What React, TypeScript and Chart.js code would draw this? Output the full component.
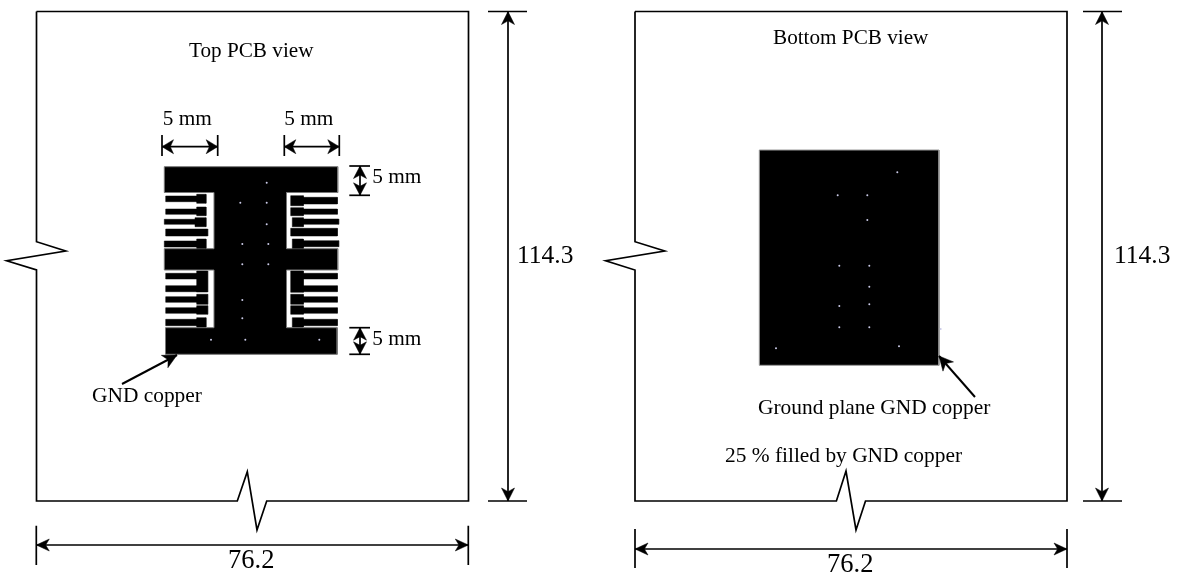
import React, { useEffect, useRef } from "react";
import { Chart, registerables } from "chart.js";

Chart.register(...registerables);

type Pt = [number, number];

// Board outlines with break marks
const topBoardOutline: Pt[] = [[36.5, 11.5], [468.5, 11.5], [468.5, 501], [266.7, 501], [257, 530], [247.3, 471.7], [237.3, 501], [36.5, 501], [36.5, 270], [6.7, 260.7], [65.7, 251], [36.5, 241.7], [36.5, 11.5]];
const bottomBoardOutline: Pt[] = [[635, 11.5], [1067, 11.5], [1067, 501], [865.5, 501], [856, 530], [846, 471], [836.4, 501], [635, 501], [635, 270], [605.7, 260.7], [664.7, 251], [635, 241.7], [635, 11.5]];

// Copper regions
const topCopper: Pt[] = [[164.3, 166.7], [337.7, 166.7], [337.7, 192.5], [286.5, 192.5], [286.5, 248.7], [337.7, 248.7], [337.7, 270], [286.5, 270], [286.5, 327.7], [337.2, 327.7], [337.2, 354.3], [165.5, 354.3], [165.5, 327.7], [214, 327.7], [214, 270], [164.3, 270], [164.3, 248.7], [214, 248.7], [214, 192.5], [164.3, 192.5], [164.3, 166.7]];
const bottomCopper: Pt[] = [[759.3, 150], [939, 150], [939, 365.3], [759.3, 365.3], [759.3, 150]];

// Trace and pad rectangles: [x0, y0, x1, y1]
const leftTraces: number[][] = [
  [165.7, 196, 197, 201.7], [165.7, 209, 197, 214.3], [164.3, 219.3, 196, 224.3], [165.7, 229, 207.7, 236], [164.3, 241, 197, 247],
  [165.7, 273.3, 197, 279], [165.7, 285.7, 197, 291.7], [165.7, 296.7, 197, 302.3], [165.7, 307.7, 197, 313.3], [165.7, 319.3, 197, 325.7],
];
const leftPads: number[][] = [
  [196.7, 194.3, 206, 203.3], [196.7, 207, 206, 215.7], [195, 217.7, 206, 226.7], [196.7, 239, 206, 248.3],
  [196.7, 271, 207.7, 292], [196.7, 294.3, 207.7, 304.3], [196.7, 305.7, 207.7, 314.3], [196.7, 317.7, 206, 327],
];
const rightTraces: number[][] = [
  [303, 197.3, 337.3, 204], [303, 209, 337.3, 214.3], [303, 219, 338.7, 224.3], [290.7, 228.3, 337.3, 236], [303, 240.7, 338.7, 246.7],
  [303, 273.3, 337.3, 279], [303, 285.7, 337.3, 291.7], [303, 296.7, 337.3, 302.3], [303, 307.7, 337.3, 313.3], [303, 319.3, 337.3, 325.7],
];
const rightPads: number[][] = [
  [290.7, 195.7, 303.3, 205.7], [290.7, 207.7, 303.3, 215.7], [292.3, 217.7, 303.3, 226.7], [292.3, 239, 303.3, 248.3],
  [290.7, 271, 303.3, 292.3], [290.7, 294.3, 303.3, 304.3], [290.7, 305.7, 303.3, 314.3], [292.3, 317.7, 303.3, 327],
];

// Vias
const topVias: Pt[] = [[266.7, 182.7], [240.3, 202.7], [266.7, 202.7], [266.7, 224.3], [242.3, 244], [268.3, 244], [242.3, 264.3], [268.3, 264.3], [242.3, 300], [242.3, 318.3], [211, 339.7], [245.3, 339.7], [319.3, 339.7]];
const bottomVias: Pt[] = [[897.3, 172.3], [837.7, 195.3], [867.3, 195.3], [867.3, 220], [839.3, 265.7], [869.3, 265.7], [869.3, 286.7], [869.3, 304.3], [839.3, 306], [839.3, 327.3], [869.3, 327.3], [940.7, 329], [776, 348.3], [899, 346.3]];

// Dimension tick segments: [x0, y0, x1, y1]
const dimensionTicks: number[][] = [
  [36.3, 525.7, 36.3, 565], [468.3, 525.7, 468.3, 565],
  [635, 529, 635, 568], [1067, 529, 1067, 568],
  [488, 11.5, 527, 11.5], [488, 501, 527, 501],
  [1083, 11.5, 1122, 11.5], [1083, 501, 1122, 501],
  [162, 135, 162, 156], [217.7, 135, 217.7, 156],
  [284.3, 135, 284.3, 156], [339.3, 135, 339.3, 156],
  [349.3, 166, 370, 166], [349.3, 195.3, 370, 195.3],
  [349.3, 327.7, 370, 327.7], [349.3, 354.3, 370, 354.3],
];

// Double-headed dimension arrows: [x0, y0, x1, y1, head length, head half-width]
const doubleArrows: number[][] = [
  [36.3, 545, 468.3, 545, 13, 6],
  [635, 549, 1067, 549, 13, 6],
  [508, 11.5, 508, 501, 13, 6.5],
  [1102, 11.5, 1102, 501, 13, 6.5],
  [162, 146.7, 217.7, 146.7, 11.5, 7],
  [284.3, 146.7, 339.3, 146.7, 11.5, 7],
  [360, 166, 360, 195.3, 12.5, 6.5],
  [360, 327.7, 360, 354.3, 12.5, 6.5],
];

// Leader arrows: [tail x, tail y, tip x, tip y]
const leaderArrows: number[][] = [
  [122, 384, 177, 355],
  [975, 397, 939, 356],
];

// Text annotations
const annotationTexts = ["Top PCB view", "Bottom PCB view", "5 mm", "5 mm", "5 mm", "5 mm", "GND copper", "Ground plane GND copper", "25 % filled by GND copper", "114.3", "114.3", "76.2", "76.2"];
const annotationX = [189, 773, 162.7, 284.3, 372.3, 372.3, 92, 758, 725, 517, 1114, 228, 827];
const annotationY = [57, 44, 125, 125, 183.3, 345, 402, 414, 462, 263, 263, 568, 572];
const annotationSize = [21.2, 21.2, 21.3, 21.3, 21.3, 21.3, 21.4, 21.4, 21.4, 25.5, 25.5, 26.5, 26.5];

const rectPoly = (r: number[]) =>
  [[r[0], r[1]], [r[2], r[1]], [r[2], r[3]], [r[0], r[3]], [r[0], r[1]]].map(([x, y]) => ({ x, y }));

const head = (tx: number, ty: number, fx: number, fy: number, len: number, w: number) => {
  const d = Math.hypot(tx - fx, ty - fy) || 1;
  const ux = (tx - fx) / d;
  const uy = (ty - fy) / d;
  const n = len * 0.72;
  return [
    [tx, ty],
    [tx - ux * len - uy * w, ty - uy * len + ux * w],
    [tx - ux * n, ty - uy * n],
    [tx - ux * len + uy * w, ty - uy * len - ux * w],
    [tx, ty],
  ].map(([x, y]) => ({ x, y }));
};

const solid = (data: { x: number; y: number }[], color = "#000") => ({
  data,
  showLine: true,
  fill: "shape" as const,
  backgroundColor: color,
  borderColor: color,
  borderWidth: 0.5,
  pointRadius: 0,
  tension: 0,
});

const stroke = (data: { x: number; y: number }[], width = 1.7) => ({
  data,
  showLine: true,
  fill: false,
  borderColor: "#000",
  borderWidth: width,
  pointRadius: 0,
  tension: 0,
});

const toPts = (p: Pt[]) => p.map(([x, y]) => ({ x, y }));

const textPlugin = {
  id: "annotationText",
  afterDraw(chart: any) {
    const { ctx, scales } = chart;
    ctx.save();
    ctx.fillStyle = "#000";
    ctx.textAlign = "left";
    ctx.textBaseline = "alphabetic";
    annotationTexts.forEach((t, i) => {
      ctx.font = `${annotationSize[i]}px "Liberation Serif"`;
      ctx.fillText(t, scales.x.getPixelForValue(annotationX[i]), scales.y.getPixelForValue(annotationY[i]));
    });
    ctx.restore();
  },
};

export default function App() {
  const ref = useRef<HTMLCanvasElement>(null);
  useEffect(() => {
    document.body.style.margin = "0";
    const datasets: any[] = [];
    const vias = [...topVias, ...bottomVias];
    datasets.push({
      data: toPts(vias),
      showLine: false,
      pointRadius: 1,
      pointBorderWidth: 0,
      pointBackgroundColor: "#c9c9e6",
    });
    doubleArrows.forEach((a) => {
      datasets.push(solid(head(a[0], a[1], a[2], a[3], a[4], a[5])));
      datasets.push(solid(head(a[2], a[3], a[0], a[1], a[4], a[5])));
      datasets.push(stroke([{ x: a[0], y: a[1] }, { x: a[2], y: a[3] }]));
    });
    leaderArrows.forEach((a) => {
      datasets.push(solid(head(a[2], a[3], a[0], a[1], 14, 7)));
      datasets.push(stroke([{ x: a[0], y: a[1] }, { x: a[2], y: a[3] }], 2));
    });
    dimensionTicks.forEach((t) =>
      datasets.push(stroke([{ x: t[0], y: t[1] }, { x: t[2], y: t[3] }], 1.7))
    );
    [...leftTraces, ...leftPads, ...rightTraces, ...rightPads].forEach((r) =>
      datasets.push(solid(rectPoly(r)))
    );
    datasets.push({ ...solid(toPts(topCopper)), borderColor: "#777", borderWidth: 1 });
    datasets.push({ ...solid(toPts(bottomCopper)), borderColor: "#999", borderWidth: 1 });
    datasets.push(stroke(toPts(topBoardOutline)));
    datasets.push(stroke(toPts(bottomBoardOutline)));

    const chart = new Chart(ref.current!, {
      type: "scatter",
      data: { datasets },
      options: {
        animation: false,
        responsive: false,
        devicePixelRatio: 1,
        layout: { padding: 0, autoPadding: false },
        plugins: { legend: { display: false }, tooltip: { enabled: false } },
        scales: {
          x: { type: "linear", display: false, min: 0, max: 1177 },
          y: { type: "linear", display: false, min: 0, max: 574, reverse: true },
        },
      },
      plugins: [textPlugin],
    });
    return () => chart.destroy();
  }, []);
  return (
    <canvas
      ref={ref}
      width={1177}
      height={574}
      style={{ display: "block", background: "#fff" }}
    />
  );
}
